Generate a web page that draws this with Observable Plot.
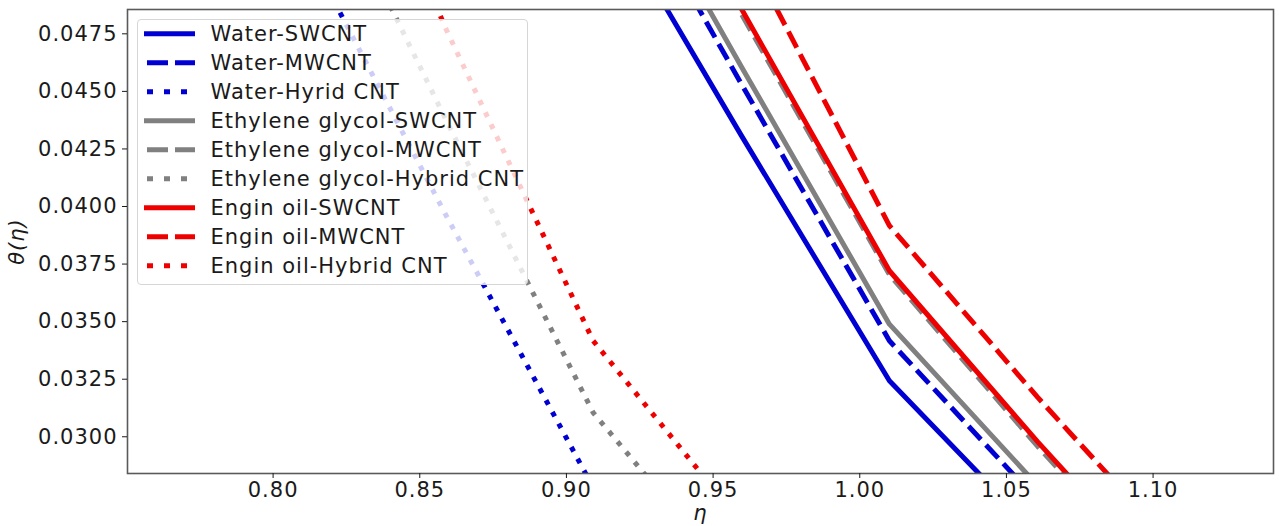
<!DOCTYPE html>
<html>
<head>
<meta charset="utf-8">
<script src="https://cdn.jsdelivr.net/npm/d3@7"></script>
<script src="https://cdn.jsdelivr.net/npm/@observablehq/plot@0.6"></script>
<style>
  body { margin: 0; background: #fff; overflow: hidden; }
  #wrap { position: relative; width: 1279px; height: 526px; font-family: "DejaVu Sans", sans-serif; }
  #legend { position: absolute; left: 137px; top: 19px; width: 391px; height: 266px; box-sizing: border-box;
            border: 1px solid #d6d6d6; border-radius: 4px; background: rgba(255,255,255,0.8); }
  #legend svg { position: absolute; left: -1px; top: -1px; overflow: visible; }
</style>
</head>
<body>
<div id="wrap"><div id="legend"></div></div>
<script>
// ---- data ----
const eta = [0.8081, 0.8586, 0.9091, 0.9596, 1.0101, 1.0606, 1.1111];

const waterSWCNT  = [null,   null,    0.0540,  0.04309, 0.03243, 0.02577, null];
const waterMWCNT  = [null,   null,    0.0567,  0.04533, 0.03417, 0.02723, null];
const waterHybrid = [0.0520, 0.03970, 0.02780, 0.0204,  null,    null,    null];
const egSWCNT     = [null,   null,    0.05745, 0.04608, 0.03489, 0.02789, null];
const egMWCNT     = [null,   null,    0.05994, 0.04837, 0.03704, 0.02959, 0.02252];
const egHybrid    = [0.0570, 0.04385, 0.03105, 0.02338, null,    null,    null];
const eoSWCNT     = [null,   null,    0.0594,  0.04860, 0.03721, 0.02979, 0.02273];
const eoMWCNT     = [null,   null,    0.0644,  0.05153, 0.03917, 0.03172, 0.02466];
const eoHybrid    = [0.0632, 0.04780, 0.03417, 0.02627, null,    null,    null];

const seriesLabels = [
  "Water-SWCNT", "Water-MWCNT", "Water-Hyrid CNT",
  "Ethylene glycol-SWCNT", "Ethylene glycol-MWCNT", "Ethylene glycol-Hybrid CNT",
  "Engin oil-SWCNT", "Engin oil-MWCNT", "Engin oil-Hybrid CNT"
];
const xTicks = [0.80, 0.85, 0.90, 0.95, 1.00, 1.05, 1.10];
const yTicks = [0.0300, 0.0325, 0.0350, 0.0375, 0.0400, 0.0425, 0.0450, 0.0475];

// ---- styles ----
const seriesValues = [waterSWCNT, waterMWCNT, waterHybrid, egSWCNT, egMWCNT, egHybrid, eoSWCNT, eoMWCNT, eoHybrid];
const BLUE = "#0000d2", GRAY = "#808080", RED = "#ee0000";
const seriesColors = [BLUE, BLUE, BLUE, GRAY, GRAY, GRAY, RED, RED, RED];
const DASH = "18,7.5", DOT = "5,8.3";
const seriesDash = [null, DASH, DOT, null, DASH, DOT, null, DASH, DOT];

const lineMarks = seriesValues.map((vals, k) =>
  Plot.line(eta.map((e, i) => ({eta: e, theta: vals[i]})), {
    x: "eta", y: "theta",
    stroke: seriesColors[k], strokeWidth: 5,
    strokeDasharray: seriesDash[k] || undefined,
    strokeLinecap: "butt", strokeLinejoin: "round",
    clip: true
  })
);

const chart = Plot.plot({
  width: 1279, height: 526,
  marginLeft: 127, marginRight: 6, marginTop: 9, marginBottom: 53,
  x: {domain: [0.75036, 1.14105]},
  y: {domain: [0.028405, 0.048556]},
  style: {fontFamily: "DejaVu Sans, sans-serif", fontSize: "21px", color: "#1a1a1a", background: "white", letterSpacing: "1px"},
  marks: [
    ...lineMarks,
    Plot.frame({stroke: "#5a5a5a", strokeWidth: 1.6}),
    Plot.axisX(xTicks, {tickSize: 5, tickPadding: 4, tickFormat: d3.format(".2f"), label: null}),
    Plot.axisY(yTicks, {tickSize: 5, tickPadding: 5, tickFormat: d3.format(".4f"), label: null}),
    Plot.text(["η"], {text: d => d, frameAnchor: "bottom", lineAnchor: "middle", textAnchor: "middle", dy: 40, fontStyle: "italic", fontSize: 21}),
    Plot.text(["θ(η)"], {text: d => d, frameAnchor: "left", lineAnchor: "middle", textAnchor: "middle", dx: -110, rotate: -90, fontStyle: "italic", fontSize: 21})
  ]
});
document.getElementById("wrap").prepend(chart);

// ---- legend (overlay with translucent white box, like matplotlib) ----
const lg = d3.select("#legend").append("svg").attr("width", 392).attr("height", 268);
seriesLabels.forEach((lab, k) => {
  const cy = 14.7 + 29 * k;
  const dash = seriesDash[k];
  const g = lg.append("g");
  let x1 = 7, x2 = 58, da = null;
  if (dash === DASH) { x1 = 10; x2 = 58; da = "21,7"; }
  if (dash === DOT) { x1 = 10; x2 = 52; da = "6,11"; }
  g.append("line").attr("x1", x1).attr("x2", x2).attr("y1", cy).attr("y2", cy)
    .attr("stroke", seriesColors[k]).attr("stroke-width", 5).attr("stroke-dasharray", da);
  g.append("text").attr("x", 73.5).attr("y", cy).attr("dy", "0.35em")
    .attr("font-family", "DejaVu Sans, sans-serif").attr("font-size", 21)
    .attr("letter-spacing", "1px").attr("fill", "#1a1a1a").text(lab);
});
</script>
</body>
</html>
